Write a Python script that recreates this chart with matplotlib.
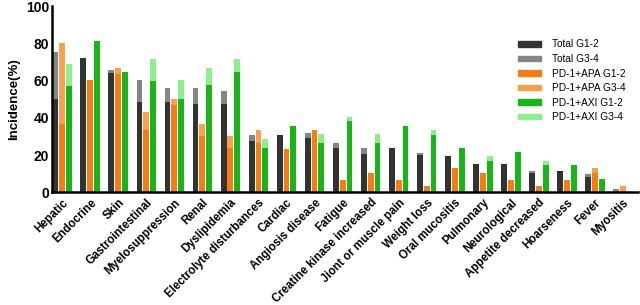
import matplotlib.pyplot as plt
from matplotlib.patches import Patch
import numpy as np

categories = ["Hepatic", "Endocrine", "Skin", "Gastrointestinal", "Myelosuppression",
              "Renal", "Dyslipidemia", "Electrolyte disturbances", "Cardiac",
              "Angiosis disease", "Fatigue", "Creatine kinase increased",
              "Jiont or muscle pain", "Weight loss", "Oral mucositis", "Pulmonary",
              "Neurological", "Appetite decreased", "Hoarseness", "Fever", "Myositis"]

# G1-2 segment, G3-4 segment stacked on top (%)
total_g12 = [50.3, 72.1, 64.1, 48.8, 48.8, 47.6, 47.6, 27.8, 30.7, 29.3, 24.1,
             20.9, 23.9, 20.2, 19.8, 15.5, 15.5, 10.3, 11.6, 8.5, 0.0]
total_g34 = [25.1, 0.0, 1.4, 11.3, 7.0, 8.2, 7.0, 2.9, 0.0, 2.7, 2.3,
             3.0, 0.0, 0.9, 0.0, 0.0, 0.0, 1.3, 0.0, 1.6, 1.9]
apa_g12 = [36.8, 60.3, 63.3, 33.4, 47.0, 30.5, 24.1, 26.6, 23.5, 33.4, 6.7,
           10.3, 6.7, 3.7, 13.3, 10.3, 6.7, 3.7, 6.7, 10.3, 0.0]
apa_g34 = [43.4, 0.0, 3.6, 10.0, 3.3, 6.5, 6.3, 6.8, 0.0, 0.0, 0.0,
           0.0, 0.0, 0.0, 0.0, 0.0, 0.0, 0.0, 0.0, 3.0, 3.7]
axi_g12 = [57.3, 81.3, 64.6, 59.9, 50.3, 57.4, 64.6, 23.9, 35.9, 26.4, 38.1,
           26.4, 35.9, 30.9, 24.1, 16.9, 21.8, 14.6, 14.6, 7.4, 0.0]
axi_g34 = [11.8, 0.0, 0.0, 11.5, 10.0, 9.4, 6.8, 4.9, 0.0, 4.7, 2.5,
           4.7, 0.0, 2.7, 0.0, 2.4, 0.0, 2.5, 0.0, 0.0, 0.0]

groups = [
    ("Total", total_g12, total_g34, "#333333", "#858585"),
    ("PD-1+APA", apa_g12, apa_g34, "#F57C14", "#F9A04E"),
    ("PD-1+AXI", axi_g12, axi_g34, "#18B418", "#8EEE8E"),
]

fig = plt.figure(figsize=(6.4, 3.05), dpi=100)
ax = fig.add_axes([0.081, 0.369, 0.916, 0.611])

x = np.arange(len(categories))
w = 0.21
handles = []
for i, (name, g12, g34, c1, c2) in enumerate(groups):
    pos = x + (i - 1) * 0.245
    ax.bar(pos, g12, width=w, color=c1, linewidth=0)
    ax.bar(pos, g34, width=w, bottom=g12, color=c2, linewidth=0)
    handles.append(Patch(color=c1, label=name + " G1-2"))
    handles.append(Patch(color=c2, label=name + " G3-4"))

ax.set_xlim(-0.37, 20.54)
ax.set_ylim(0, 100)
ax.set_yticks([0, 20, 40, 60, 80, 100])
ax.set_xticks(x)
ax.set_xticklabels(categories, rotation=45, ha="right", rotation_mode="anchor",
                   fontsize=8.3, fontweight="bold", family="Liberation Sans")
for lab in ax.get_yticklabels():
    lab.set_fontweight("bold")
    lab.set_fontsize(10)
    lab.set_family("Liberation Sans")
ax.set_ylabel("Incidence(%)", fontsize=9.5, fontweight="bold", family="Liberation Sans")
ax.tick_params(axis="x", length=0, pad=3)
ax.tick_params(axis="y", length=0, pad=2)
for s in ["top", "right"]:
    ax.spines[s].set_visible(False)
for s in ["left", "bottom"]:
    ax.spines[s].set_linewidth(1.8)

leg = ax.legend(handles=handles, loc="upper left", bbox_to_anchor=(0.78, 0.87),
                frameon=False, handlelength=2.2, handleheight=0.45,
                labelspacing=0.45, handletextpad=1.1,
                prop={"family": "Liberation Sans", "size": 7.3})

fig.savefig("out.png", dpi=100)
